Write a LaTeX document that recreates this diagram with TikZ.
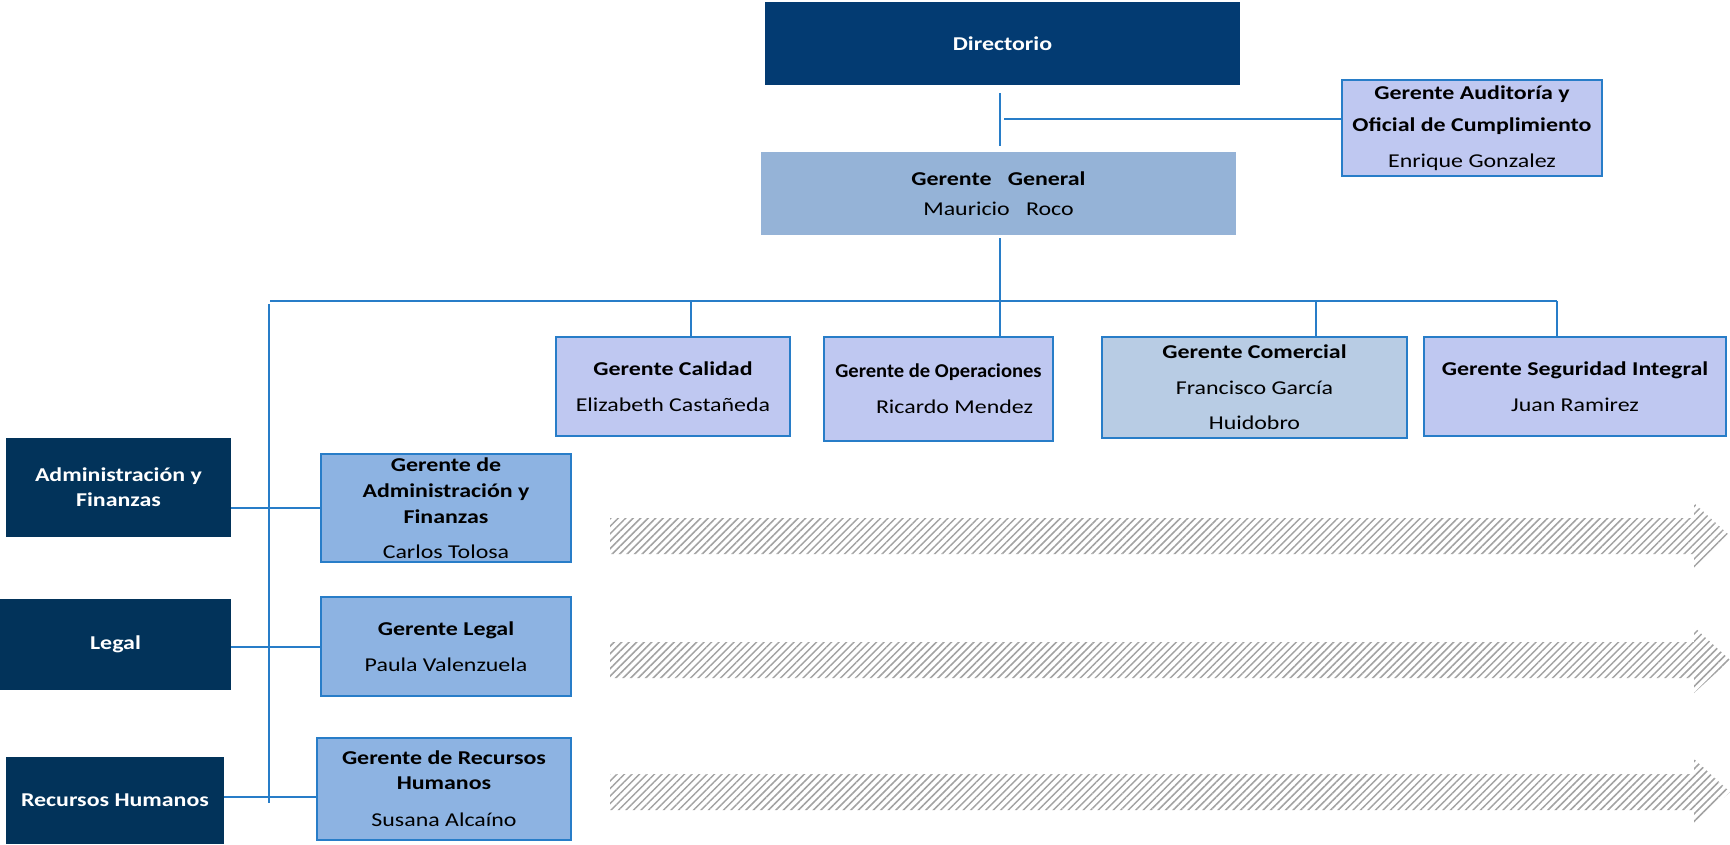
\documentclass[tikz,border=0pt]{standalone}
\usepackage{fontspec}
\setmainfont{Carlito}[FakeStretch=1.22]
\newfontfamily\narrowfont{Carlito}[FakeStretch=1.05]
\usetikzlibrary{patterns.meta}
\definecolor{navy}{RGB}{3,59,114}
\definecolor{darknavy}{RGB}{2,51,90}
\definecolor{ggblue}{RGB}{149,179,215}
\definecolor{lavender}{RGB}{191,200,241}
\definecolor{comblue}{RGB}{184,204,228}
\definecolor{midblue}{RGB}{141,179,226}
\definecolor{linkblue}{RGB}{40,125,200}
\definecolor{hatchgray}{RGB}{162,162,162}
\tikzset{
  box/.style={rectangle, inner sep=0pt, align=center, text=black},
  topbox/.style={box, fill=navy, text=white, font=\bfseries\fontsize{19.6}{29}\selectfont},
  sidebox/.style={box, fill=darknavy, text=white},
  lavbox/.style={box, fill=lavender, draw=linkblue, line width=2pt},
  combox/.style={box, fill=comblue, draw=linkblue, line width=2pt},
  gbox/.style={box, fill=midblue, draw=linkblue, line width=2pt},
  link/.style={draw=linkblue, line width=2pt},
  hatcharrow/.style={pattern={Lines[angle=45,distance=5.3pt,line width=1.5pt]}, pattern color=hatchgray},
}
\begin{document}
\begin{tikzpicture}[x=1pt,y=-1pt]
\useasboundingbox (0,0) rectangle (1730,844);
% top
\node[topbox, minimum width=475pt, minimum height=83pt] (dir) at (1002.5,43.5) {Directorio};
\node[lavbox, minimum width=260pt, minimum height=96pt, font=\fontsize{19.6}{32}\selectfont] (aud) at (1472,128)
  {\textbf{Gerente Auditoría y}\\\textbf{Oficial de Cumplimiento}\\[4pt]Enrique Gonzalez};
\node[box, fill=ggblue, minimum width=475pt, minimum height=83pt, font=\fontsize{19.6}{30}\selectfont] (gg) at (998.5,193.5)
  {\textbf{Gerente\ \ \ General}\\Mauricio\ \ \ Roco};
% row of managers
\node[lavbox, minimum width=234pt, minimum height=99pt, font=\fontsize{19.6}{36}\selectfont] (cal) at (673,386.5)
  {\textbf{Gerente Calidad}\\Elizabeth Castañeda};
\node[lavbox, minimum width=229pt, minimum height=104pt, font=\fontsize{19.6}{36}\selectfont] (ope) at (938.5,389)
  {{\narrowfont\bfseries Gerente de Operaciones}\\\hspace*{32pt}Ricardo Mendez};
\node[combox, minimum width=305pt, minimum height=101pt, font=\fontsize{19.6}{35.5}\selectfont] (com) at (1254.5,387.5)
  {\textbf{Gerente Comercial}\\Francisco García\\Huidobro};
\node[lavbox, minimum width=302pt, minimum height=99pt, font=\fontsize{19.6}{36}\selectfont] (seg) at (1575,386.5)
  {\textbf{Gerente Seguridad Integral}\\Juan Ramirez};
% side dark boxes
\node[sidebox, minimum width=225pt, minimum height=99pt, font=\bfseries\fontsize{19.6}{25}\selectfont] (sadm) at (118.5,487.5)
  {Administración y\\Finanzas};
\node[sidebox, minimum width=231pt, minimum height=91pt, font=\bfseries\fontsize{19.6}{25}\selectfont] (sleg) at (115.5,644.5) {Legal};
\node[sidebox, minimum width=218pt, minimum height=87pt, font=\bfseries\fontsize{19.6}{25}\selectfont] (srh) at (115,800.5) {Recursos Humanos};
% staff managers
\node[gbox, minimum width=250pt, minimum height=108pt, font=\fontsize{19.6}{26}\selectfont] (gadm) at (446,508)
  {\textbf{Gerente de}\\\textbf{Administración y}\\\textbf{Finanzas}\\[9pt]Carlos Tolosa};
\node[gbox, minimum width=250pt, minimum height=99pt, font=\fontsize{19.6}{36}\selectfont] (gleg) at (446,646.5)
  {\textbf{Gerente Legal}\\Paula Valenzuela};
\node[gbox, minimum width=254pt, minimum height=102pt, font=\fontsize{19.6}{25}\selectfont] (grh) at (444,789)
  {\textbf{Gerente de Recursos}\\\textbf{Humanos}\\[12pt]Susana Alcaíno};
% connectors
\coordinate (t1) at (1000,93);
\coordinate (t2) at (1000,146);
\draw[link] (t1) -- (t2);
\coordinate (h1) at (1004,119);
\draw[link] (h1) -- (h1 -| aud.west);
\coordinate (m0) at (1000,238);
\coordinate (m1) at (1000,301);
\draw[link] (m0) -- (m1);
\coordinate (busl) at (270,301);
\coordinate (busr) at (1557,301);
\draw[link] (busl) -- (busr);
\coordinate (dcal) at (691,301);
\coordinate (dope) at (1000,301);
\coordinate (dcom) at (1316,301);
\coordinate (dseg) at (1557,301);
\draw[link] (dcal) -- (dcal |- cal.north);
\draw[link] (dope) -- (dope |- ope.north);
\draw[link] (dcom) -- (dcom |- com.north);
\draw[link] (dseg) -- (dseg |- seg.north);
\coordinate (vtop) at (269,304);
\coordinate (vbot) at (269,803);
\draw[link] (vtop) -- (vbot);
\draw[link] (gadm.west) -- (gadm.west -| sadm.east);
\draw[link] (gleg.west) -- (gleg.west -| sleg.east);
\draw[link] ([yshift=-8pt]grh.west) -- ([yshift=-8pt]grh.west -| srh.east);
% hatched arrows
\path[hatcharrow] (610,518) -- (1694,518) -- (1694,503) -- (1730,536) -- (1694,569) -- (1694,554) -- (610,554) -- cycle;
\path[hatcharrow] (610,642) -- (1694,642) -- (1694,627) -- (1730,660) -- (1694,693) -- (1694,678) -- (610,678) -- cycle;
\path[hatcharrow] (610,774) -- (1694,774) -- (1694,759) -- (1730,792) -- (1694,825) -- (1694,810) -- (610,810) -- cycle;
\end{tikzpicture}
\end{document}
